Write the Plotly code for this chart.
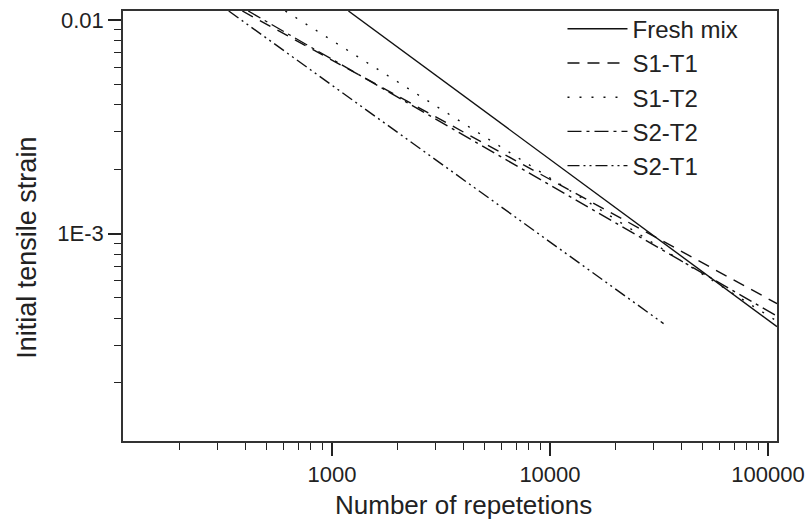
import plotly.graph_objects as go

# Data (power-law lines in log-log space: start/end points)
series_names = ["Fresh mix", "S1-T1", "S1-T2", "S2-T2", "S2-T1"]
fresh_x = [1190, 110000]
fresh_y = [0.011, 3.67e-4]
s1t1_x = [388, 110000]
s1t1_y = [0.011, 4.70e-4]
s1t2_x = [611, 110000]
s1t2_y = [0.011, 3.89e-4]
s2t2_x = [413, 110000]
s2t2_y = [0.011, 4.11e-4]
s2t1_x = [336, 33200]
s2t1_y = [0.011, 3.79e-4]

x_tick_vals = [1000, 10000, 100000]
x_tick_text = ["1000", "10000", "100000"]
y_tick_vals = [0.001, 0.01]
y_tick_text = ["1E-3", "0.01"]
x_minor = [m * 10 ** e for e in (2, 3, 4) for m in range(2, 10)]
y_minor = [m * 10.0 ** e for e in (-4, -3) for m in range(2, 10)]

x_title = "Number of repetetions"
y_title = "Initial tensile strain"

dashes = ["solid", "12px,8px", "2px,10px", "14px,5px,3px,5px", "12px,4px,2px,4px,2px,4px"]
xs = [fresh_x, s1t1_x, s1t2_x, s2t2_x, s2t1_x]
ys = [fresh_y, s1t1_y, s1t2_y, s2t2_y, s2t1_y]

FONT = "Liberation Sans, Arial, sans-serif"
TXT = "#222222"

fig = go.Figure()
for name, x, y, d in zip(series_names, xs, ys, dashes):
    fig.add_trace(go.Scatter(x=x, y=y, mode="lines", name=name,
                             line=dict(color="#111111", width=1.4, dash=d)))

axis_common = dict(type="log", showgrid=False, zeroline=False, showline=True,
                   linecolor="#333333", linewidth=1.5, mirror=True,
                   ticks="outside", ticklen=13, tickwidth=1.5, tickcolor=TXT,
                   tickfont=dict(family=FONT, size=22, color=TXT))

fig.update_xaxes(**axis_common, range=[2.0414, 5.0414], tickmode="array",
                 tickvals=x_tick_vals, ticktext=x_tick_text,
                 minor=dict(tickmode="array", tickvals=x_minor, ticks="outside",
                            ticklen=7, tickwidth=1.3, tickcolor=TXT))
fig.update_yaxes(**axis_common, range=[-3.9706, -1.9586], tickmode="array",
                 tickvals=y_tick_vals, ticktext=y_tick_text,
                 minor=dict(tickmode="array", tickvals=y_minor, ticks="outside",
                            ticklen=7, tickwidth=1.3, tickcolor=TXT))

fig.add_annotation(text=x_title, xref="paper", yref="paper", x=0.52, y=-0.148,
                   xanchor="center", yanchor="middle", showarrow=False,
                   font=dict(family=FONT, size=26, color=TXT))
fig.add_annotation(text=y_title, xref="paper", yref="paper", x=-0.148, y=0.45,
                   xanchor="center", yanchor="middle", showarrow=False, textangle=-90,
                   font=dict(family=FONT, size=27, color=TXT))

fig.update_layout(
    width=808, height=525,
    margin=dict(l=123, r=31, t=11, b=84, autoexpand=False),
    paper_bgcolor="white", plot_bgcolor="white",
    showlegend=True,
    legend=dict(x=0.672, y=1.01, xanchor="left", yanchor="top",
                bgcolor="rgba(0,0,0,0)", borderwidth=0, itemwidth=60,
                font=dict(family=FONT, size=24, color=TXT),
                tracegroupgap=0),
)

fig.write_html("out.html")
